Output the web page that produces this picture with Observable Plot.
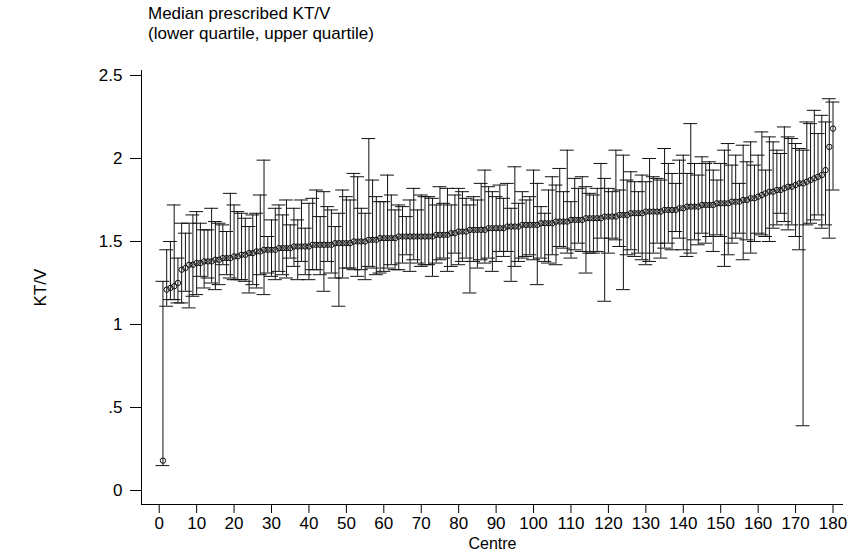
<!DOCTYPE html>
<html>
<head>
<meta charset="utf-8">
<script src="https://cdn.jsdelivr.net/npm/d3@7"></script>
<script src="https://cdn.jsdelivr.net/npm/@observablehq/plot@0.6"></script>
<style>
  html, body { margin: 0; padding: 0; background: #fff; }
  #wrap { position: relative; width: 853px; height: 552px; font-family: "Liberation Sans", Arial, sans-serif; }
  #title { position: absolute; left: 148px; top: 4px; font-size: 17px; line-height: 20px; color: #000; }
</style>
</head>
<body>
<div id="wrap">
  <div id="title">Median prescribed KT/V<br>(lower quartile, upper quartile)</div>
  <div id="chart"></div>
</div>
<script>
const titleLines = ["Median prescribed KT/V", "(lower quartile, upper quartile)"];
const xLabel = "Centre";
const yLabel = "KT/V";
const xTicks = [0,10,20,30,40,50,60,70,80,90,100,110,120,130,140,150,160,170,180];
const yTicks = [0, 0.5, 1, 1.5, 2, 2.5];
const yTickLabels = ["0", ".5", "1", "1.5", "2", "2.5"];
const xDomain = [-4.73, 182.8];
const yDomain = [-0.0843, 2.530];

const medians = [
 0.18,1.21,1.22,1.23,1.25,1.33,1.34,1.36,1.36,1.37,
 1.37,1.38,1.38,1.38,1.39,1.39,1.40,1.40,1.40,1.41,
 1.41,1.42,1.42,1.43,1.43,1.44,1.44,1.45,1.45,1.45,
 1.45,1.46,1.46,1.46,1.46,1.47,1.47,1.47,1.47,1.47,
 1.48,1.48,1.48,1.48,1.48,1.48,1.49,1.49,1.49,1.49,
 1.49,1.50,1.50,1.50,1.50,1.51,1.51,1.51,1.52,1.52,
 1.52,1.52,1.52,1.53,1.53,1.53,1.53,1.53,1.53,1.53,
 1.53,1.53,1.53,1.54,1.54,1.54,1.54,1.55,1.55,1.56,
 1.56,1.56,1.57,1.57,1.57,1.57,1.57,1.58,1.58,1.58,
 1.58,1.58,1.59,1.59,1.59,1.59,1.60,1.60,1.60,1.60,
 1.60,1.61,1.61,1.61,1.61,1.62,1.62,1.62,1.62,1.63,
 1.63,1.63,1.63,1.64,1.64,1.64,1.64,1.64,1.65,1.65,
 1.65,1.65,1.66,1.66,1.66,1.67,1.67,1.67,1.67,1.68,
 1.68,1.68,1.68,1.68,1.69,1.69,1.69,1.69,1.70,1.70,
 1.71,1.71,1.71,1.71,1.72,1.72,1.72,1.72,1.73,1.73,
 1.73,1.73,1.74,1.74,1.74,1.75,1.75,1.76,1.76,1.77,
 1.78,1.79,1.80,1.80,1.81,1.81,1.82,1.83,1.83,1.84,
 1.85,1.85,1.86,1.87,1.88,1.89,1.90,1.93,2.07,2.18];

const uppers = [
 1.26,1.45,1.50,1.72,1.40,1.61,1.55,1.61,1.66,1.68,
 1.61,1.57,1.57,1.70,1.62,1.61,1.60,1.56,1.79,1.72,
 1.68,1.67,1.64,1.59,1.66,1.67,1.78,1.99,1.53,1.63,
 1.70,1.72,1.66,1.75,1.60,1.70,1.63,1.75,1.58,1.73,
 1.76,1.81,1.65,1.80,1.71,1.69,1.59,1.67,1.81,1.77,
 1.75,1.91,1.89,1.70,1.67,2.12,1.87,1.77,1.74,1.74,
 1.90,1.78,1.69,1.72,1.71,1.65,1.75,1.82,1.69,1.78,
 1.77,1.77,1.76,1.72,1.83,1.73,1.82,1.72,1.78,1.82,
 1.80,1.76,1.72,1.77,1.75,1.85,1.93,1.83,1.80,1.77,
 1.84,1.76,1.85,1.70,1.95,1.73,1.80,1.75,1.77,1.93,
 1.85,1.71,1.67,1.81,1.89,1.84,1.94,1.80,2.05,1.74,
 1.88,1.82,1.89,1.83,1.79,1.78,1.82,1.97,1.88,1.82,
 1.80,2.05,1.81,2.02,1.87,1.92,1.86,1.80,1.90,1.86,
 2.00,1.89,1.88,1.87,2.06,1.97,1.91,1.85,1.99,2.02,
 1.91,2.21,1.97,1.90,2.01,1.97,1.98,1.93,1.87,1.97,
 2.05,2.09,1.96,2.02,1.85,2.08,1.98,2.10,1.96,2.02,
 2.16,1.93,2.13,2.10,2.05,2.03,2.19,2.13,2.12,2.09,
 2.06,2.05,2.22,2.21,2.29,2.15,2.26,2.22,2.36,2.34];

const lowers = [
 0.15,1.11,1.15,1.15,1.13,1.13,1.20,1.10,1.17,1.18,
 1.29,1.22,1.28,1.25,1.21,1.24,1.36,1.30,1.28,1.27,
 1.27,1.27,1.26,1.19,1.24,1.22,1.30,1.18,1.31,1.29,
 1.27,1.32,1.30,1.28,1.40,1.35,1.27,1.38,1.30,1.27,
 1.33,1.33,1.30,1.20,1.38,1.31,1.28,1.11,1.28,1.34,
 1.34,1.33,1.29,1.33,1.27,1.35,1.34,1.30,1.31,1.32,
 1.34,1.36,1.33,1.33,1.37,1.42,1.32,1.39,1.37,1.35,
 1.36,1.36,1.29,1.37,1.39,1.40,1.32,1.35,1.43,1.36,
 1.38,1.40,1.19,1.38,1.34,1.39,1.37,1.40,1.32,1.38,
 1.44,1.41,1.44,1.26,1.35,1.38,1.40,1.41,1.42,1.39,
 1.24,1.40,1.38,1.37,1.42,1.36,1.47,1.46,1.43,1.40,
 1.45,1.49,1.44,1.31,1.43,1.43,1.44,1.52,1.14,1.43,
 1.52,1.51,1.47,1.21,1.42,1.45,1.41,1.43,1.39,1.36,
 1.38,1.43,1.49,1.40,1.46,1.49,1.45,1.56,1.52,1.45,
 1.41,1.43,1.51,1.48,1.55,1.49,1.53,1.44,1.54,1.53,
 1.35,1.42,1.49,1.52,1.55,1.39,1.51,1.43,1.50,1.55,
 1.54,1.53,1.50,1.58,1.60,1.67,1.62,1.57,1.60,1.53,
 1.45,0.39,1.60,1.61,1.63,1.66,1.58,1.60,1.52,1.81];

const centres = d3.range(1, medians.length + 1);
const data = centres.map((c, i) => ({centre: c, median: medians[i], lower: lowers[i], upper: uppers[i]}));

const capHalf = 1.85; // half cap width in centre units
const ink = "#111";

const chart = Plot.plot({
  width: 853,
  height: 552,
  marginLeft: 141,
  marginRight: 10,
  marginTop: 70,
  marginBottom: 48,
  style: {fontFamily: "'Liberation Sans', Arial, sans-serif", fontSize: "17px", color: "#000", background: "#fff", overflow: "visible"},
  x: {domain: xDomain},
  y: {domain: yDomain},
  marks: [
    Plot.ruleX([xDomain[0]], {stroke: "#000", strokeWidth: 1}),
    Plot.ruleY([yDomain[0]], {stroke: "#000", strokeWidth: 1}),
    Plot.axisX({ticks: xTicks, tickSize: 9, tickPadding: 3, label: null, fontSize: 17}),
    Plot.axisX({ticks: [], tickSize: 0, label: xLabel, labelAnchor: "center", labelArrow: "none", labelOffset: 44, fontSize: 16}),
    Plot.axisY({ticks: yTicks, tickFormat: d => yTickLabels[yTicks.indexOf(d)], tickSize: 11, tickPadding: 8, label: yLabel, labelAnchor: "center", labelArrow: "none", labelOffset: 108, fontSize: 17}),
    Plot.ruleX(data, {x: "centre", y1: "lower", y2: "upper", stroke: ink, strokeWidth: 1}),
    Plot.ruleY(data, {y: "lower", x1: d => d.centre - capHalf, x2: d => d.centre + capHalf, stroke: ink, strokeWidth: 1}),
    Plot.ruleY(data, {y: "upper", x1: d => d.centre - capHalf, x2: d => d.centre + capHalf, stroke: ink, strokeWidth: 1}),
    Plot.dot(data, {x: "centre", y: "median", r: 2.7, stroke: ink, fill: "none", strokeWidth: 1})
  ]
});
document.getElementById("chart").appendChild(chart);
</script>
</body>
</html>
